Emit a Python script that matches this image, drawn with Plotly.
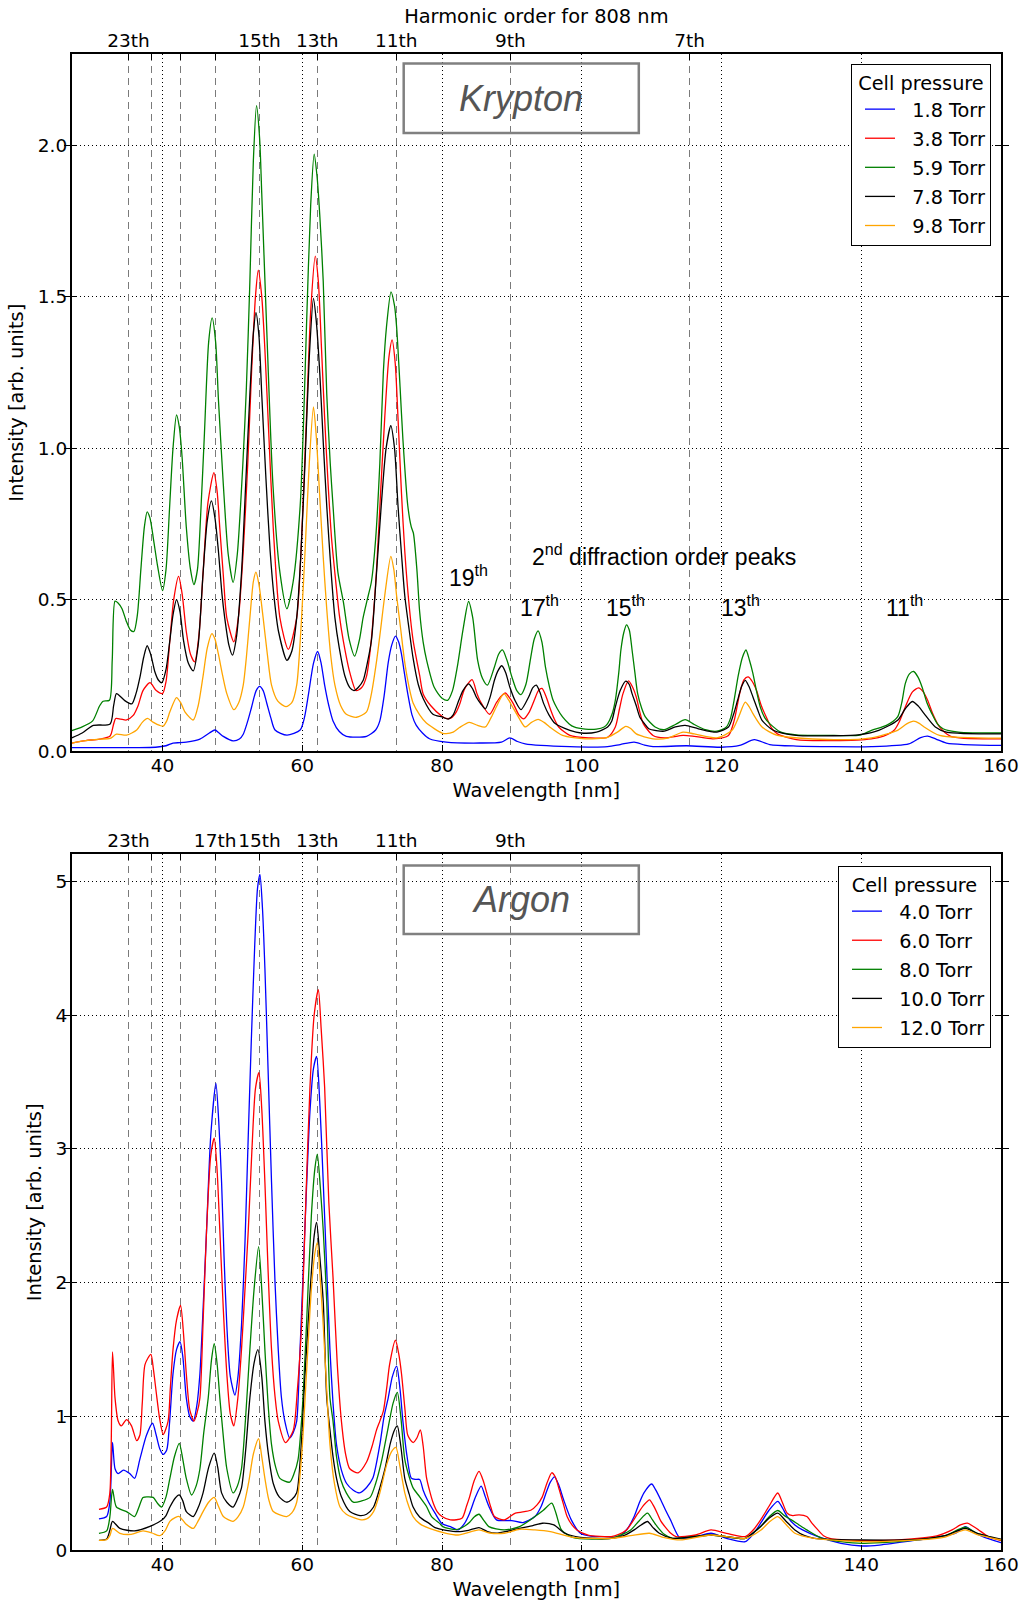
import plotly.graph_objects as go

# ---------------- data (wavelength nm, intensity arb. units) ----------------
LASER_NM = 808
kr_orders = [23, 21, 19, 17, 15, 13, 11, 9, 7]
kr_order_labels = ["23th", "", "", "", "15th", "13th", "11th", "9th", "7th"]
ar_orders = [23, 21, 19, 17, 15, 13, 11, 9]
ar_order_labels = ["23th", "", "", "17th", "15th", "13th", "11th", "9th"]

kr_names = ["1.8 Torr", "3.8 Torr", "5.9 Torr", "7.8 Torr", "9.8 Torr"]
ar_names = ["4.0 Torr", "6.0 Torr", "8.0 Torr", "10.0 Torr", "12.0 Torr"]
colors = ["#0000ff", "#ff0000", "#008000", "#000000", "#ffa500"]

KR_1P8 = [(27,0.012),(32,0.012),(36,0.012),(39,0.013),(40.5,0.018),(41.5,0.027),(42.5,0.028),(43.4,0.03),(45.35,0.04),(46.7,0.06),(47.5,0.07),(48.1,0.06),(48.7,0.049),(50.1,0.034),(51.0,0.04),(51.55,0.056),(52.2,0.10),(52.74,0.145),(53.4,0.20),(53.9,0.214),(54.4,0.20),(54.9,0.16),(55.5,0.11),(56.1,0.07),(57.8,0.053),(59.7,0.07),(60.3,0.11),(60.9,0.19),(61.6,0.29),(62.2,0.329),(62.7,0.29),(63.2,0.218),(63.8,0.15),(64.4,0.10),(65.3,0.065),(66.3,0.049),(69.2,0.049),(70.5,0.07),(71.1,0.10),(71.7,0.18),(72.3,0.292),(72.8,0.35),(73.33,0.38),(73.8,0.36),(74.2,0.32),(74.6,0.26),(75.1,0.189),(75.7,0.12),(76.3,0.086),(77.2,0.06),(78.2,0.041),(80.6,0.03),(85.4,0.027),(88.5,0.03),(89.7,0.044),(90.8,0.032),(91.9,0.024),(98.3,0.015),(103.7,0.015),(105.5,0.022),(107.5,0.03),(109,0.02),(110.2,0.015),(115,0.018),(119.9,0.013),(122.6,0.019),(124.7,0.038),(126.9,0.022),(130.7,0.017),(141.45,0.015),(146.8,0.024),(148.5,0.045),(149.5,0.05),(150.7,0.04),(152.2,0.027),(160,0.019)]

KR_3P8 = [(27,0.027),(29,0.035),(31,0.04),(32.5,0.05),(33.0,0.09),(33.3,0.108),(34.0,0.106),(34.85,0.103),(35.8,0.118),(36.5,0.15),(37.2,0.20),(38.2,0.226),(39.1,0.20),(40.0,0.19),(40.5,0.23),(41.05,0.366),(41.6,0.50),(42.3,0.577),(42.8,0.52),(43.4,0.395),(44.0,0.32),(44.6,0.295),(45.2,0.38),(45.8,0.587),(46.5,0.82),(47.35,0.919),(47.8,0.86),(48.2,0.735),(48.7,0.58),(49.2,0.44),(50.2,0.361),(50.9,0.45),(51.55,0.66),(52.2,0.95),(52.74,1.25),(53.3,1.50),(53.7,1.587),(54.2,1.50),(54.65,1.325),(55.2,1.05),(55.85,0.735),(56.8,0.44),(58.0,0.336),(59.2,0.44),(59.9,0.70),(60.6,1.10),(61.2,1.45),(61.86,1.634),(62.3,1.55),(62.76,1.325),(63.2,1.10),(63.7,0.88),(64.2,0.70),(64.67,0.587),(65.3,0.45),(65.86,0.366),(66.8,0.26),(67.7,0.20),(68.5,0.21),(69.2,0.248),(69.8,0.35),(70.6,0.587),(71.2,0.85),(71.8,1.10),(72.4,1.30),(72.86,1.357),(73.3,1.28),(73.7,1.10),(74.2,0.85),(74.67,0.66),(75.3,0.48),(75.86,0.366),(76.8,0.25),(77.3,0.189),(78.4,0.15),(80.0,0.115),(80.6,0.108),(81.3,0.11),(82.05,0.13),(82.6,0.16),(83.2,0.204),(84.3,0.236),(85.0,0.19),(85.4,0.168),(86.8,0.122),(87.76,0.159),(88.4,0.18),(89.1,0.192),(89.7,0.175),(90.2,0.157),(91.0,0.12),(91.7,0.107),(92.5,0.13),(93.2,0.168),(93.8,0.20),(94.3,0.207),(94.9,0.18),(95.4,0.146),(96.0,0.11),(96.7,0.08),(98.3,0.052),(101.0,0.044),(103.7,0.046),(104.8,0.08),(105.4,0.14),(105.9,0.19),(106.7,0.232),(107.3,0.21),(107.8,0.179),(108.3,0.13),(108.8,0.091),(110.2,0.052),(111.8,0.044),(114.5,0.052),(116.1,0.049),(118.8,0.041),(121.0,0.052),(121.8,0.10),(122.6,0.19),(123.2,0.235),(123.8,0.245),(124.4,0.23),(125.0,0.201),(125.7,0.15),(126.4,0.113),(127.2,0.075),(128.0,0.057),(130.7,0.038),(136.1,0.035),(141.45,0.041),(143.2,0.05),(144.7,0.069),(145.5,0.10),(146.3,0.146),(147.3,0.195),(148.2,0.209),(148.9,0.195),(149.5,0.168),(150.3,0.12),(151.2,0.08),(152.8,0.049),(160,0.041)]

KR_5P9 = [(27,0.068),(28.5,0.08),(30,0.10),(31,0.15),(31.5,0.165),(32.4,0.168),(32.8,0.30),(33.2,0.495),(33.6,0.49),(34.2,0.47),(34.8,0.43),(35.4,0.40),(35.9,0.395),(36.4,0.45),(36.9,0.60),(37.4,0.74),(37.8,0.79),(38.2,0.77),(38.7,0.70),(39.3,0.61),(40.0,0.53),(40.5,0.60),(41.0,0.80),(41.5,1.00),(42.0,1.11),(42.4,1.07),(42.8,0.97),(43.4,0.74),(44.0,0.60),(44.5,0.55),(45.0,0.60),(45.5,0.80),(46.0,1.05),(46.6,1.35),(47.1,1.43),(47.6,1.35),(48.0,1.16),(48.7,0.88),(49.4,0.65),(50.1,0.557),(50.7,0.65),(51.5,0.95),(52.0,1.20),(52.5,1.55),(53.0,1.95),(53.45,2.13),(53.9,2.02),(54.2,1.84),(54.9,1.40),(55.8,0.88),(56.8,0.59),(57.8,0.47),(58.7,0.56),(59.7,0.81),(60.2,1.10),(60.6,1.40),(61.2,1.80),(61.7,1.97),(62.1,1.90),(62.5,1.77),(63.0,1.55),(63.5,1.18),(64.0,0.95),(64.4,0.81),(65.1,0.59),(65.9,0.49),(66.7,0.37),(67.5,0.314),(68.2,0.37),(68.7,0.44),(69.3,0.50),(69.9,0.56),(70.5,0.70),(71.1,0.95),(71.6,1.25),(72.05,1.40),(72.7,1.516),(73.2,1.47),(73.5,1.40),(74.0,1.20),(74.4,1.03),(75.1,0.81),(75.6,0.74),(75.9,0.72),(76.4,0.60),(76.8,0.46),(77.3,0.36),(77.8,0.30),(78.9,0.21),(80.0,0.175),(80.8,0.168),(81.5,0.20),(82.2,0.28),(83.0,0.40),(83.8,0.494),(84.4,0.44),(85.1,0.30),(85.8,0.24),(86.5,0.218),(87.5,0.278),(88.1,0.32),(88.65,0.334),(89.3,0.30),(90.0,0.245),(90.7,0.20),(91.3,0.187),(92.0,0.22),(92.7,0.31),(93.2,0.37),(93.75,0.397),(94.3,0.36),(94.8,0.278),(95.4,0.21),(95.9,0.168),(96.5,0.14),(97.25,0.113),(98.2,0.09),(98.9,0.08),(100.5,0.073),(102.1,0.073),(103.2,0.08),(103.7,0.091),(104.3,0.12),(104.8,0.168),(105.3,0.26),(105.6,0.334),(106.0,0.39),(106.4,0.417),(106.8,0.40),(107.2,0.334),(107.6,0.26),(108.0,0.19),(108.6,0.14),(109.1,0.113),(110.5,0.08),(111.8,0.071),(113.4,0.088),(114.8,0.104),(116.1,0.088),(117.7,0.071),(119.35,0.066),(120.7,0.08),(121.3,0.11),(121.8,0.168),(122.4,0.25),(123.0,0.31),(123.5,0.334),(124.0,0.30),(124.5,0.256),(125.0,0.20),(125.55,0.146),(126.2,0.11),(126.9,0.091),(128.5,0.063),(130.7,0.054),(136.1,0.052),(139.8,0.053),(141.45,0.069),(143.6,0.085),(145.2,0.113),(145.8,0.16),(146.3,0.223),(146.9,0.255),(147.5,0.263),(148.1,0.245),(148.7,0.212),(149.4,0.16),(150.1,0.124),(150.9,0.09),(151.7,0.074),(153.9,0.063),(160,0.06)]

KR_7P8 = [(27,0.044),(28.5,0.06),(30.1,0.085),(32.5,0.09),(33.0,0.15),(33.4,0.19),(34.0,0.18),(34.6,0.167),(35.6,0.156),(36.2,0.19),(36.8,0.248),(37.3,0.31),(37.8,0.348),(38.3,0.32),(38.9,0.262),(39.4,0.235),(39.9,0.226),(40.5,0.27),(41.05,0.366),(41.5,0.45),(42.0,0.50),(42.5,0.46),(43.0,0.366),(43.7,0.29),(44.4,0.265),(45.1,0.35),(45.8,0.587),(46.4,0.76),(47.0,0.826),(47.5,0.77),(48.0,0.66),(48.5,0.52),(48.9,0.44),(49.5,0.35),(50.0,0.317),(50.6,0.38),(51.3,0.587),(51.9,0.88),(52.5,1.177),(53.0,1.38),(53.37,1.447),(53.8,1.37),(54.2,1.177),(54.8,0.90),(55.4,0.66),(56.0,0.50),(56.6,0.395),(57.8,0.30),(58.5,0.33),(59.2,0.44),(59.8,0.65),(60.4,0.956),(61.0,1.30),(61.6,1.494),(62.0,1.42),(62.5,1.25),(63.0,1.02),(63.5,0.81),(64.1,0.60),(64.67,0.44),(65.3,0.34),(66.1,0.248),(66.8,0.21),(67.4,0.20),(68.0,0.21),(68.7,0.233),(69.3,0.29),(69.9,0.366),(70.6,0.58),(71.3,0.81),(72.0,1.00),(72.67,1.074),(73.2,1.00),(73.7,0.81),(74.2,0.65),(74.67,0.513),(75.3,0.40),(75.86,0.307),(76.6,0.22),(77.3,0.174),(78.7,0.122),(80.0,0.113),(80.9,0.106),(81.6,0.12),(82.4,0.168),(83.0,0.20),(83.8,0.222),(84.4,0.205),(84.9,0.179),(85.6,0.155),(86.2,0.14),(86.9,0.18),(87.5,0.234),(88.0,0.265),(88.55,0.282),(89.1,0.26),(89.7,0.212),(90.5,0.165),(91.3,0.137),(92.4,0.179),(93.0,0.21),(93.5,0.218),(94.0,0.195),(94.55,0.157),(95.3,0.12),(96.2,0.091),(98.3,0.069),(99.9,0.06),(102.1,0.063),(103.7,0.08),(104.3,0.10),(104.8,0.146),(105.5,0.20),(106.3,0.231),(106.8,0.22),(107.2,0.19),(107.8,0.15),(108.3,0.113),(109.0,0.09),(109.6,0.074),(111.8,0.066),(113.4,0.08),(114.8,0.085),(116.7,0.074),(119.35,0.063),(121.0,0.08),(121.7,0.12),(122.3,0.168),(122.9,0.215),(123.4,0.234),(123.9,0.215),(124.5,0.179),(125.2,0.135),(125.8,0.102),(127.4,0.069),(130.7,0.052),(136.1,0.051),(139.8,0.055),(142.5,0.069),(145.2,0.102),(146.3,0.14),(147.3,0.164),(148.2,0.148),(149.0,0.124),(150.6,0.08),(152.2,0.063),(160,0.057)]

KR_9P8 = [(27,0.027),(29,0.035),(31,0.04),(32.5,0.042),(33.4,0.056),(34.85,0.053),(36.3,0.07),(37.1,0.095),(37.85,0.108),(38.7,0.095),(39.6,0.085),(40.1,0.083),(40.6,0.10),(41.05,0.13),(42.0,0.177),(42.6,0.16),(43.2,0.13),(44.4,0.103),(45.1,0.15),(45.8,0.248),(46.4,0.34),(47.06,0.388),(47.5,0.37),(48.0,0.32),(48.6,0.25),(49.2,0.19),(50.2,0.137),(50.9,0.16),(51.55,0.218),(52.0,0.31),(52.5,0.44),(53.0,0.56),(53.37,0.591),(53.8,0.55),(54.4,0.44),(55.0,0.32),(55.6,0.218),(56.5,0.165),(57.66,0.147),(58.5,0.16),(59.2,0.218),(59.8,0.40),(60.4,0.66),(61.0,0.95),(61.6,1.136),(62.0,1.04),(62.5,0.84),(63.0,0.64),(63.5,0.47),(64.1,0.31),(64.67,0.218),(65.5,0.15),(66.3,0.122),(67.76,0.112),(69.2,0.13),(69.9,0.19),(70.6,0.292),(71.2,0.40),(71.8,0.513),(72.67,0.643),(73.1,0.60),(73.5,0.513),(74.1,0.40),(74.67,0.292),(75.3,0.21),(75.86,0.159),(76.8,0.12),(77.76,0.093),(80.0,0.06),(80.6,0.058),(81.6,0.063),(82.5,0.078),(83.9,0.095),(85.1,0.085),(86.2,0.08),(87.0,0.11),(87.76,0.146),(88.85,0.19),(89.5,0.17),(90.1,0.146),(91.0,0.11),(91.9,0.08),(92.8,0.095),(93.75,0.105),(94.6,0.095),(95.4,0.08),(97.25,0.052),(100.5,0.041),(103.7,0.046),(105.1,0.063),(106.3,0.082),(107.0,0.075),(107.8,0.057),(110.2,0.041),(112.3,0.043),(114.5,0.063),(116.1,0.057),(119.35,0.044),(121.5,0.069),(122.4,0.11),(123.4,0.162),(124.0,0.145),(124.5,0.124),(125.8,0.08),(128.0,0.052),(136.1,0.038),(141.45,0.044),(145.2,0.069),(146.5,0.09),(147.5,0.099),(148.3,0.092),(149.0,0.08),(151.2,0.052),(160,0.043)]

AR_4P0 = [(30.9,0.235),(32.0,0.253),(32.46,0.36),(32.84,0.806),(33.2,0.61),(33.65,0.574),(34.4,0.60),(35.3,0.574),(36.0,0.538),(36.75,0.68),(37.7,0.86),(38.57,0.95),(39.1,0.86),(39.6,0.76),(40.1,0.717),(40.6,0.75),(41.0,0.95),(41.5,1.32),(42.0,1.50),(42.5,1.56),(42.9,1.45),(43.4,1.14),(43.9,1.00),(44.4,0.966),(44.9,1.08),(45.35,1.32),(45.8,1.80),(46.3,2.39),(46.9,3.10),(47.64,3.49),(48.05,3.20),(48.45,2.75),(48.8,2.20),(49.2,1.68),(49.7,1.30),(50.36,1.16),(50.8,1.30),(51.3,1.68),(51.8,2.30),(52.27,3.10),(52.7,3.80),(53.2,4.53),(53.6,4.95),(53.94,5.05),(54.3,4.80),(54.65,4.35),(55.1,3.60),(55.6,2.75),(56.1,2.00),(56.56,1.50),(57.0,1.15),(57.5,0.966),(58.2,0.84),(58.7,0.88),(59.2,0.966),(59.6,1.40),(60.1,2.04),(60.6,2.70),(61.1,3.28),(61.6,3.60),(62.05,3.69),(62.5,3.35),(63.0,2.75),(63.5,2.10),(63.96,1.50),(64.4,1.10),(64.9,0.79),(65.6,0.60),(66.35,0.50),(67.3,0.45),(68.2,0.43),(69.2,0.47),(70.1,0.54),(71.1,0.79),(71.7,1.00),(72.3,1.14),(72.9,1.30),(73.5,1.376),(74.0,1.20),(74.4,0.966),(75.0,0.70),(75.6,0.54),(76.2,0.53),(76.8,0.53),(77.3,0.45),(77.9,0.378),(79.0,0.278),(80.0,0.20),(81.2,0.178),(82.3,0.153),(83.2,0.20),(83.95,0.278),(84.8,0.40),(85.6,0.48),(86.2,0.40),(86.7,0.33),(87.8,0.228),(89.97,0.223),(91.6,0.208),(93.3,0.253),(94.2,0.33),(94.9,0.43),(95.5,0.51),(96.1,0.55),(96.7,0.49),(97.4,0.378),(98.5,0.228),(99.8,0.128),(101.5,0.105),(103.1,0.103),(105.3,0.103),(106.5,0.16),(107.5,0.253),(108.2,0.35),(108.9,0.43),(110.0,0.496),(110.6,0.45),(111.3,0.378),(112.0,0.30),(112.7,0.228),(114.1,0.09),(116.3,0.103),(118.5,0.128),(120.7,0.09),(123.4,0.065),(124.5,0.12),(125.6,0.203),(126.8,0.30),(128.05,0.366),(128.7,0.32),(129.4,0.253),(130.5,0.19),(131.6,0.153),(133.8,0.103),(137.1,0.053),(140.1,0.033),(142.6,0.04),(148.1,0.078),(151,0.10),(153.5,0.128),(154.9,0.178),(156.0,0.14),(157.4,0.103),(160,0.058)]

AR_6P0 = [(30.9,0.307),(32.0,0.324),(32.46,0.43),(32.84,1.483),(33.2,1.14),(33.65,0.966),(34.1,0.93),(34.85,0.977),(35.56,0.93),(36.3,0.82),(36.75,0.86),(37.1,1.10),(37.5,1.39),(38.33,1.465),(38.7,1.35),(39.1,1.18),(39.6,0.98),(40.1,0.866),(40.8,0.966),(41.1,1.20),(41.5,1.50),(42.0,1.72),(42.58,1.83),(43.0,1.62),(43.4,1.32),(43.9,1.05),(44.5,0.966),(44.9,1.02),(45.35,1.14),(45.8,1.70),(46.3,2.39),(46.9,2.95),(47.4,3.08),(47.8,2.85),(48.2,2.39),(48.7,1.80),(49.2,1.32),(49.7,1.02),(50.2,0.93),(50.8,1.15),(51.3,1.50),(51.8,1.95),(52.27,2.39),(52.8,3.00),(53.3,3.45),(53.8,3.57),(54.2,3.30),(54.65,2.75),(55.1,2.10),(55.6,1.50),(56.1,1.15),(56.56,0.966),(57.6,0.806),(58.7,0.895),(59.3,1.20),(59.9,1.68),(60.5,2.60),(61.1,3.46),(61.7,4.00),(62.3,4.19),(62.7,3.90),(63.2,3.46),(63.8,2.60),(64.4,2.04),(65.0,1.40),(65.6,0.966),(66.2,0.72),(66.8,0.61),(68.0,0.58),(69.2,0.66),(70.0,0.78),(70.6,0.895),(71.1,0.966),(71.6,1.04),(72.1,1.22),(72.5,1.39),(73.33,1.57),(73.8,1.47),(74.2,1.32),(74.7,1.05),(75.1,0.86),(75.86,0.806),(76.4,0.84),(76.9,0.90),(77.3,0.78),(77.76,0.55),(78.2,0.45),(78.7,0.36),(79.3,0.29),(80.0,0.253),(81.2,0.228),(82.85,0.24),(83.5,0.33),(83.95,0.40),(84.6,0.52),(85.3,0.59),(85.9,0.52),(86.4,0.43),(87.0,0.32),(87.5,0.253),(88.9,0.228),(90.5,0.278),(92.7,0.30),(93.6,0.34),(94.35,0.40),(95.0,0.50),(95.7,0.58),(96.2,0.55),(96.8,0.45),(97.3,0.36),(97.9,0.253),(98.6,0.19),(99.3,0.153),(100.9,0.115),(104.2,0.103),(105.3,0.12),(106.4,0.153),(107.2,0.21),(108.05,0.278),(108.9,0.34),(109.7,0.378),(110.2,0.34),(110.8,0.278),(111.3,0.22),(111.9,0.178),(112.7,0.13),(113.5,0.103),(116.3,0.115),(118.5,0.153),(120.7,0.128),(123.4,0.103),(124.5,0.15),(125.6,0.228),(126.8,0.33),(128.05,0.429),(128.7,0.36),(129.4,0.278),(130.2,0.26),(131.1,0.266),(132.2,0.253),(133.0,0.20),(133.8,0.153),(134.6,0.11),(135.5,0.09),(140.1,0.073),(145.3,0.078),(150.8,0.108),(153.0,0.153),(154.2,0.19),(155.2,0.203),(156.0,0.18),(156.8,0.153),(158.3,0.10),(160,0.073)]

AR_8P0 = [(30.9,0.128),(32.0,0.146),(32.46,0.25),(32.84,0.456),(33.4,0.324),(34.85,0.29),(36.0,0.253),(36.6,0.32),(37.2,0.396),(38.0,0.40),(38.66,0.396),(39.3,0.35),(39.86,0.324),(40.5,0.40),(41.05,0.538),(41.7,0.70),(42.4,0.80),(42.9,0.68),(43.4,0.538),(44.15,0.414),(44.8,0.48),(45.35,0.61),(45.9,0.88),(46.54,1.14),(47.0,1.42),(47.4,1.544),(47.8,1.40),(48.2,1.14),(48.7,0.85),(49.2,0.61),(50.1,0.43),(50.7,0.48),(51.3,0.61),(51.9,1.00),(52.5,1.50),(53.1,1.95),(53.75,2.27),(54.2,1.95),(54.65,1.50),(55.1,1.10),(55.6,0.79),(56.2,0.62),(56.8,0.538),(58.2,0.51),(58.8,0.57),(59.4,0.68),(60.0,1.05),(60.6,1.68),(61.3,2.50),(61.8,2.85),(62.15,2.96),(62.6,2.70),(63.0,2.39),(63.5,1.86),(63.96,1.14),(64.4,0.966),(64.9,0.70),(65.5,0.53),(66.3,0.43),(67.3,0.36),(68.5,0.37),(69.7,0.396),(70.5,0.50),(71.4,0.68),(72.3,0.92),(73.0,1.10),(73.6,1.18),(74.1,1.00),(74.67,0.68),(75.3,0.55),(75.86,0.467),(76.8,0.40),(77.76,0.33),(78.5,0.253),(79.7,0.20),(80.1,0.178),(82.05,0.155),(83.2,0.18),(83.95,0.21),(84.6,0.25),(85.3,0.27),(85.9,0.23),(86.7,0.178),(88.9,0.153),(91.1,0.178),(93.3,0.253),(94.5,0.30),(95.7,0.353),(96.3,0.28),(97.1,0.153),(98.7,0.098),(104.2,0.09),(107.0,0.153),(108.2,0.22),(109.4,0.278),(110.1,0.23),(110.8,0.178),(111.8,0.12),(113.0,0.09),(118.5,0.115),(123.4,0.09),(124.5,0.13),(125.6,0.178),(126.8,0.25),(128.05,0.298),(129.0,0.26),(130.0,0.228),(131.1,0.19),(132.2,0.153),(134.4,0.09),(140.1,0.053),(148.1,0.078),(152,0.11),(154.9,0.173),(156.5,0.13),(160,0.078)]

AR_10P0 = [(30.9,0.075),(32.0,0.085),(32.46,0.15),(32.84,0.217),(33.9,0.164),(36.0,0.146),(38.2,0.18),(39.86,0.225),(40.5,0.26),(41.05,0.324),(41.8,0.39),(42.4,0.414),(42.9,0.37),(43.4,0.29),(44.4,0.253),(45.1,0.32),(45.8,0.43),(46.6,0.62),(47.4,0.727),(47.9,0.62),(48.45,0.43),(49.2,0.36),(50.1,0.324),(50.7,0.38),(51.3,0.467),(51.9,0.75),(52.5,1.14),(53.1,1.40),(53.65,1.50),(54.2,1.30),(54.65,0.966),(55.2,0.70),(55.85,0.50),(56.7,0.40),(57.76,0.36),(58.5,0.38),(59.2,0.43),(59.8,0.75),(60.4,1.32),(61.2,2.00),(61.7,2.35),(62.05,2.45),(62.5,2.20),(63.0,1.86),(63.5,1.14),(63.96,0.90),(64.4,0.70),(64.9,0.538),(65.6,0.40),(66.8,0.29),(68.26,0.26),(69.2,0.27),(70.2,0.324),(71.1,0.467),(71.84,0.61),(72.6,0.80),(73.2,0.90),(73.6,0.93),(74.1,0.78),(74.67,0.538),(75.3,0.42),(75.86,0.324),(76.8,0.25),(78.2,0.20),(79.0,0.17),(80.6,0.15),(82.3,0.14),(83.8,0.15),(85.3,0.17),(86.5,0.14),(87.8,0.128),(89.5,0.145),(91.1,0.165),(93.0,0.185),(94.35,0.203),(96.0,0.19),(97.6,0.128),(99.8,0.098),(104.2,0.09),(106.0,0.11),(107.5,0.153),(108.5,0.19),(109.4,0.216),(110.2,0.17),(111.1,0.128),(113.0,0.09),(118.5,0.115),(123.4,0.09),(124.5,0.13),(125.6,0.178),(126.8,0.24),(128.05,0.278),(129.2,0.22),(130.5,0.153),(131.9,0.11),(133.3,0.09),(140.1,0.078),(148.1,0.083),(152,0.11),(154.9,0.165),(156.5,0.13),(160,0.083)]

AR_12P0 = [(30.9,0.075),(32.0,0.08),(32.46,0.11),(32.84,0.164),(33.9,0.128),(35.5,0.12),(37.2,0.146),(38.5,0.13),(39.6,0.11),(40.4,0.15),(41.05,0.217),(41.8,0.245),(42.4,0.253),(43.3,0.20),(44.4,0.164),(45.1,0.22),(45.8,0.29),(46.6,0.36),(47.4,0.396),(48.0,0.33),(48.7,0.253),(50.1,0.217),(50.8,0.25),(51.55,0.324),(52.3,0.50),(53.0,0.72),(53.75,0.834),(54.2,0.70),(54.65,0.538),(55.2,0.38),(55.85,0.29),(57.76,0.253),(58.5,0.28),(59.2,0.36),(59.9,0.70),(60.6,1.32),(61.3,1.95),(61.8,2.22),(62.15,2.30),(62.6,2.00),(63.0,1.68),(63.5,1.20),(63.96,0.79),(64.6,0.50),(65.4,0.324),(66.3,0.27),(68.26,0.23),(69.2,0.235),(70.2,0.29),(71.1,0.43),(72.1,0.645),(72.8,0.74),(73.4,0.77),(74.0,0.62),(74.67,0.43),(75.3,0.32),(75.86,0.253),(76.8,0.20),(78.2,0.164),(80.6,0.128),(82.3,0.115),(85.3,0.153),(86.8,0.13),(88.9,0.128),(91.1,0.158),(93.3,0.153),(95.5,0.14),(98.7,0.098),(104.2,0.09),(107.0,0.11),(109.7,0.128),(111.5,0.10),(114.1,0.078),(118.5,0.115),(123.4,0.09),(125.6,0.15),(126.8,0.21),(128.05,0.253),(129.3,0.19),(130.5,0.128),(133.3,0.09),(140.1,0.065),(148.1,0.078),(152,0.10),(154.9,0.153),(156.5,0.12),(160,0.078)]

kr_series = [KR_1P8, KR_3P8, KR_5P9, KR_7P8, KR_9P8]
ar_series = [AR_4P0, AR_6P0, AR_8P0, AR_10P0, AR_12P0]

# ---------------- layout geometry ----------------
W, H = 1025, 1602
X_DOM = [71.7 / W, 1001.0 / W]
KR_DOM = [1 - 751.2 / H, 1 - 54.2 / H]
AR_DOM = [1 - 1550.4 / H, 1 - 854.4 / H]

FONT = "DejaVu Sans"
FS = 18.5
FS_TITLE = 19.4
FS_LEG = 19.3
tick_font = dict(family=FONT, size=FS, color="black")
title_font = dict(family=FONT, size=FS_TITLE, color="black")
NBSP = "\u00a0"

fig = go.Figure()

for i, (data, name, col) in enumerate(zip(kr_series, kr_names, colors)):
    wl, it = zip(*data)
    fig.add_trace(go.Scatter(x=wl, y=it, name=NBSP * 2 + name, mode="lines",
                             legendgroup="kr%d" % i,
                             line=dict(color=col, width=1.3, shape="spline", smoothing=0.7),
                             xaxis="x", yaxis="y", legend="legend"))
for i, (data, name, col) in enumerate(zip(ar_series, ar_names, colors)):
    wl, it = zip(*data)
    fig.add_trace(go.Scatter(x=wl, y=it, name=NBSP * 2 + name, mode="lines",
                             legendgroup="ar%d" % i,
                             line=dict(color=col, width=1.3, shape="spline", smoothing=0.7),
                             xaxis="x2", yaxis="y2", legend="legend2"))
# carriers for the harmonic-order axes
fig.add_trace(go.Scatter(x=[], y=[], xaxis="x3", yaxis="y", showlegend=False, hoverinfo="skip"))
fig.add_trace(go.Scatter(x=[], y=[], xaxis="x4", yaxis="y2", showlegend=False, hoverinfo="skip"))

def main_x(anchor):
    return dict(domain=X_DOM, anchor=anchor, range=[27, 160], dtick=20, tick0=0,
                ticks="inside", ticklen=6, tickwidth=1, tickcolor="black",
                showline=True, linecolor="black", linewidth=1.5, mirror=True,
                showgrid=True, gridcolor="black", gridwidth=1, griddash="1px,3px",
                zeroline=False, tickfont=tick_font, tickangle=0, ticklabelstandoff=-3,
                title=dict(text="Wavelength [nm]", font=title_font, standoff=8))

def main_y(dom, rng, dtick, fmt, anchor):
    return dict(domain=dom, anchor=anchor, range=rng, dtick=dtick, tick0=0, tickformat=fmt,
                ticks="inside", ticklen=6, tickwidth=1, tickcolor="black",
                showline=True, linecolor="black", linewidth=1.5, mirror="allticks",
                showgrid=True, gridcolor="black", gridwidth=1, griddash="1px,3px",
                zeroline=False, tickfont=tick_font, ticklabelstandoff=-1,
                title=dict(text="Intensity [arb. units]", font=title_font, standoff=9))

def harm_x(over, anchor, orders, labels, title):
    return dict(overlaying=over, anchor=anchor, side="top", range=[27, 160],
                tickmode="array", tickvals=[LASER_NM / n for n in orders], ticktext=labels,
                ticks="inside", ticklen=6, tickwidth=1, tickcolor="black", tickangle=0,
                ticklabelstandoff=3,
                showline=False, showgrid=True, gridcolor="#7a7a7a", gridwidth=1.3,
                griddash="7px,5px", zeroline=False, tickfont=tick_font,
                title=dict(text=title, font=title_font, standoff=0))

leg_common = dict(xanchor="right", yanchor="top", bgcolor="white", bordercolor="black",
                  borderwidth=1, font=dict(family=FONT, size=FS_LEG, color="black"),
                  itemwidth=30, tracegroupgap=1, indentation=8)

fig.update_layout(
    width=W, height=H, autosize=False, template="none",
    margin=dict(l=0, r=0, t=0, b=0),
    paper_bgcolor="white", plot_bgcolor="white",
    font=dict(family=FONT, size=FS, color="black"),
    xaxis=main_x("y"), yaxis=main_y(KR_DOM, [0, 2.3], 0.5, ".1f", "x"),
    xaxis2=main_x("y2"), yaxis2=main_y(AR_DOM, [0, 5.2], 1, "d", "x2"),
    xaxis3=harm_x("x", "y", kr_orders, kr_order_labels, "Harmonic order for 808 nm"),
    xaxis4=harm_x("x2", "y2", ar_orders, ar_order_labels, ""),
    legend=dict(x=991 / W, y=1 - 64 / H,
                title=dict(text="Cell pressure", side="top center",
                           font=dict(family=FONT, size=FS_LEG, color="black")), **leg_common),
    legend2=dict(x=991 / W, y=1 - 866 / H,
                 title=dict(text="Cell pressure", side="top center",
                            font=dict(family=FONT, size=FS_LEG, color="black")), **leg_common),
    showlegend=True,
)

# Gas name boxes
for (x0, x1, y0, y1, label) in [(403.7, 638.8, 63.4, 132.9, "Krypton"),
                                (403.7, 638.8, 865.6, 934.1, "Argon")]:
    fig.add_shape(type="rect", xref="paper", yref="paper",
                  x0=x0 / W, x1=x1 / W, y0=1 - y1 / H, y1=1 - y0 / H,
                  line=dict(color="#808080", width=2.5), fillcolor="rgba(0,0,0,0)", layer="above")
    fig.add_annotation(xref="paper", yref="paper", x=(x0 + x1) / 2 / W, y=1 - (y0 + y1) / 2 / H,
                       text="<i>%s</i>" % label, showarrow=False, xanchor="center", yanchor="middle",
                       font=dict(family="Liberation Sans", size=36, color="#555555"))

# 2nd diffraction order labels (data coordinates of the Krypton panel)
ann_font = dict(family="Liberation Sans", size=23, color="black")
fig.add_annotation(xref="x", yref="y", x=111.7, y=0.649, text="2<sup>nd</sup> diffraction order peaks",
                   showarrow=False, font=ann_font)
for xv, yv, txt in [(83.8, 0.577, "19"), (94.0, 0.48, "17"), (106.25, 0.48, "15"),
                    (122.75, 0.48, "13"), (146.15, 0.48, "11")]:
    fig.add_annotation(xref="x", yref="y", x=xv, y=yv, text=txt + "<sup>th</sup>",
                       showarrow=False, font=ann_font)

fig.write_html("out.html")
